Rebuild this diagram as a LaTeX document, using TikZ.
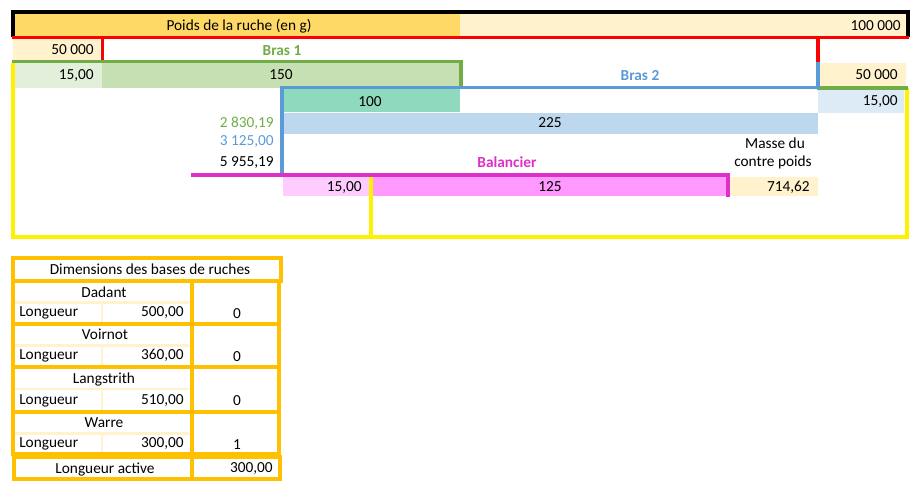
\documentclass[tikz,border=0pt]{standalone}
\usepackage{fontspec}
\setmainfont{Carlito}
\definecolor{entete}{HTML}{FFD966}
\definecolor{clair}{HTML}{FFF2CC}
\definecolor{vertclair}{HTML}{E2EFDA}
\definecolor{vertcase}{HTML}{C6E0B4}
\definecolor{turquoise}{RGB}{143,217,191}
\definecolor{bleuclair}{HTML}{DDEBF7}
\definecolor{bleucase}{HTML}{BDD7EE}
\definecolor{roseclair}{HTML}{FFCCFF}
\definecolor{rosecase}{HTML}{FF99FF}
\definecolor{magenta2}{RGB}{221,48,200}
\definecolor{vert2}{HTML}{70AD47}
\definecolor{bleu2}{HTML}{5B9BD5}
\definecolor{orangetab}{HTML}{FFC000}
\begin{document}
\begin{tikzpicture}
  [
    x=0.75pt, y=-0.75pt,
    every node/.style = {font=\fontsize{11.5}{13}\selectfont, inner sep=0pt},
    droite/.style = {anchor=base east},
    centre/.style = {anchor=base},
    gauche/.style = {anchor=base west},
    gras/.style = {font=\fontsize{11.5}{13}\selectfont\bfseries},
    trait/.style = {line width=2.5pt},
    cadre/.style = {draw=orangetab, line width=2.6pt},
    sep/.style = {draw=clair, line width=2.2pt},
  ]
  \useasboundingbox (0,0) rectangle (917,495);

  % fonds des cases
  \fill[entete] (13,13) rectangle (460,36);
  \fill[clair] (460,13) rectangle (906,36);
  \fill[clair] (13,39) rectangle (100,61);
  \fill[vertclair] (14,63) rectangle (102,88);
  \fill[vertcase] (102,63) rectangle (459,88);
  \fill[clair] (820,63) rectangle (906,87);
  \fill[turquoise] (283,89) rectangle (460,112);
  \fill[bleuclair] (818,89) rectangle (904,113);
  \fill[bleucase] (284,113) rectangle (818,134);
  \fill[roseclair] (283,177) rectangle (370,196);
  \fill[rosecase] (373,177) rectangle (727,196);
  \fill[clair] (730,177) rectangle (818,196);

  % textes
  \node[centre] (poids) at (239,31) {Poids de la ruche (en g)};
  \node[droite] (total) at (901,31) {100 000};
  \node[droite] (moitie1) at (94,55) {50 000};
  \node[centre, gras, text=vert2] (bras1) at (282,56) {Bras 1};
  \node[droite] (l1) at (94,80) {15,00};
  \node[centre] (b1) at (281,80) {150};
  \node[centre, gras, text=bleu2] (bras2) at (640,81) {Bras 2};
  \node[droite] (moitie2) at (898,80) {50 000};
  \node[centre] (b2) at (370,107) {100};
  \node[droite] (l2) at (898,106) {15,00};
  \node[centre] (b3) at (550,128) {225};
  \node[droite, text=vert2] (m1) at (274,128) {2 830,19};
  \node[droite, text=bleu2] (m2) at (274,146) {3 125,00};
  \node[droite] (m3) at (274,167) {5 955,19};
  \node[centre] (masse) at (775,149) {Masse du};
  \node[centre] (contre) at (773,167) {contre poids};
  \node[centre, gras, text=magenta2] (balancier) at (507,168) {Balancier};
  \node[droite] (l3) at (362,192) {15,00};
  \node[centre] (b4) at (550,192) {125};
  \node[droite] (cp) at (810,192) {714,62};

  % bras et balancier
  \draw[trait, black] (13,37) -- (13,12) -- (908,12) -- (908,37);
  \draw[trait, yellow] (13,63) -- (13,237) -- (907,237) -- (907,88);
  \draw[trait, yellow] (371,177) -- (371,237);
  \draw[trait, red] (12,37.5) -- (909,37.5);
  \draw[trait, red] (102.5,38) -- (102.5,62);
  \draw[trait, red] (818,38) -- (818,62);
  \draw[trait, vert2] (12,61.5) -- (461,61.5) -- (461,88);
  \draw[trait, vert2] (817,88) -- (908,88);
  \draw[trait, bleu2, line width=3pt] (281.5,175) -- (281.5,87.5);
  \draw[trait, bleu2] (280,87.5) -- (818,87.5) -- (818,62);
  \draw[trait, magenta2] (191,175) -- (728,175) -- (728,197);

  % tableau des ruches
  \draw[sep] (15,302.5) -- (189,302.5);
  \draw[sep] (102,304) -- (102,322);
  \draw[sep] (15,345.5) -- (189,345.5);
  \draw[sep] (102,347) -- (102,365);
  \draw[sep] (15,389) -- (189,389);
  \draw[sep] (102,391) -- (102,410);
  \draw[sep] (15,433.5) -- (189,433.5);
  \draw[sep] (102,435) -- (102,452);

  \draw[cadre] (13,258) rectangle (281,281);
  \draw[cadre] (13,281) rectangle (279,324);
  \draw[cadre] (192,281) -- (192,324);
  \draw[cadre] (13,324) rectangle (279,367);
  \draw[cadre] (192,324) -- (192,367);
  \draw[cadre] (13,367) rectangle (279,412);
  \draw[cadre] (192,367) -- (192,412);
  \draw[cadre] (13,412) rectangle (279,454);
  \draw[cadre] (192,412) -- (192,454);
  \draw[cadre] (14,457) rectangle (280,479);
  \draw[cadre] (192,457) -- (192,479);

  \node[centre] (titre) at (150,275) {Dimensions des bases de ruches};
  \node[centre] (dadant) at (104,297) {Dadant};
  \node[gauche] (ld) at (19,316) {Longueur};
  \node[droite] (vd) at (184,316) {500,00};
  \node[centre] (fd) at (237,318) {0};
  \node[centre] (voirnot) at (105,339) {Voirnot};
  \node[gauche] (lv) at (19,359) {Longueur};
  \node[droite] (vv) at (184,359) {360,00};
  \node[centre] (fv) at (237,361) {0};
  \node[centre] (langstrith) at (104,383) {Langstrith};
  \node[gauche] (ll) at (19,404) {Longueur};
  \node[droite] (vl) at (184,404) {510,00};
  \node[centre] (fl) at (237,405) {0};
  \node[centre] (warre) at (104,427) {Warre};
  \node[gauche] (lw) at (19,447) {Longueur};
  \node[droite] (vw) at (184,447) {300,00};
  \node[centre] (fw) at (237,449) {1};
  \node[centre] (active) at (105,473) {Longueur active};
  \node[droite] (va) at (273,472) {300,00};
\end{tikzpicture}
\end{document}
